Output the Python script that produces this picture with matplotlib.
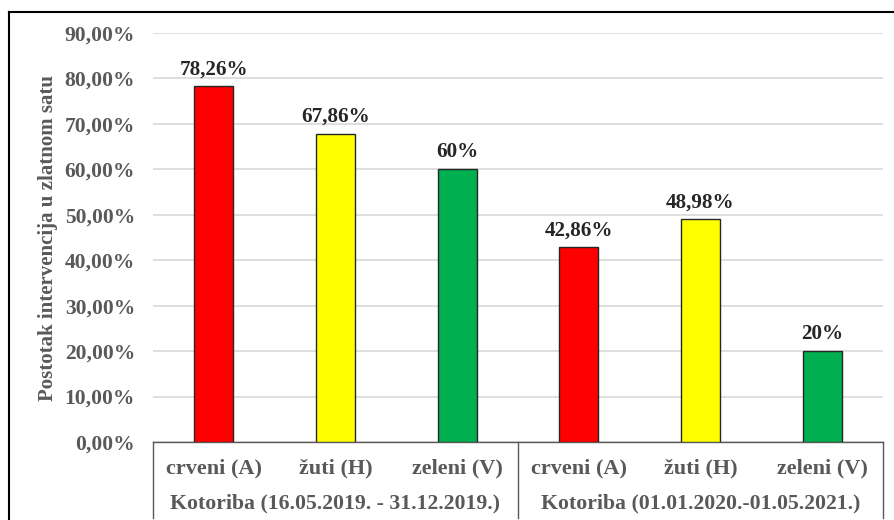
import matplotlib
matplotlib.use("Agg")
import matplotlib.pyplot as plt
from matplotlib.lines import Line2D
from matplotlib.ticker import FuncFormatter
from matplotlib.transforms import offset_copy

categories = ["crveni (A)", "žuti (H)", "zeleni (V)", "crveni (A)", "žuti (H)", "zeleni (V)"]
groups = ["Kotoriba (16.05.2019. - 31.12.2019.)", "Kotoriba (01.01.2020.-01.05.2021.)"]
values = [78.26, 67.86, 60.0, 42.86, 48.98, 20.0]
value_labels = ["78,26%", "67,86%", "60%", "42,86%", "48,98%", "20%"]
colors = ["#FF0000", "#FFFF00", "#00B050", "#FF0000", "#FFFF00", "#00B050"]
yticks = [0, 10, 20, 30, 40, 50, 60, 70, 80, 90]

plt.rcParams['font.family'] = ['Liberation Serif', 'DejaVu Serif']
W, H = 894, 520
fig = plt.figure(figsize=(W / 100, H / 100), dpi=100)

# outer frame (left and top visible, right/bottom cut off)
fig.add_artist(Line2D([9 / W, 9 / W], [0, 1 - 12 / H], transform=fig.transFigure, color="black", lw=1.5))
fig.add_artist(Line2D([9 / W, 1.0], [1 - 12 / H, 1 - 12 / H], transform=fig.transFigure, color="black", lw=1.5))

left, right, bottom, top = 153, 883, 442, 33
ax = fig.add_axes([left / W, (H - bottom) / H, (right - left) / W, (bottom - top) / H])

x = list(range(len(values)))
ax.bar(x, values, width=0.32, color=colors, edgecolor="#262626", linewidth=1.0, zorder=3)
ax.set_xlim(-0.5, len(values) - 0.5)
ax.set_ylim(0, 90)
ax.set_yticks(yticks)
ax.yaxis.set_major_formatter(FuncFormatter(lambda v, p: f"{v:.2f}%".replace(".", ",")))
ax.grid(axis="y", color="#D9D9D9", linewidth=1.2, zorder=0)
for s in ["top", "right", "left"]:
    ax.spines[s].set_visible(False)
ax.spines["bottom"].set_color("#595959")
ax.spines["bottom"].set_linewidth(1.0)
ax.tick_params(axis="y", length=0, pad=13, labelsize=15.5, labelcolor="#595959")
for t in ax.get_yticklabels():
    t.set_fontweight("bold")
ax.set_xticks([])

lab_tr = offset_copy(ax.transData, fig=fig, x=0, y=5, units="points")
for xi, v, lab in zip(x, values, value_labels):
    ax.text(xi, v, lab, transform=lab_tr, ha="center", va="bottom", fontsize=15.2,
            fontweight="bold", color="#262626")

trans = ax.get_xaxis_transform()
ax_h = bottom - top
for xi, c in zip(x, categories):
    ax.text(xi, -26 / ax_h, c, transform=trans, ha="center", va="center", fontsize=16,
            fontweight="bold", color="#595959", clip_on=False)
for gi, g in enumerate(groups):
    ax.text(gi * 3 + 1, -61 / ax_h, g, transform=trans, ha="center", va="center", fontsize=15.7,
            fontweight="bold", color="#595959", clip_on=False)
for sx in [-0.5, 2.5, 5.5]:
    ax.plot([sx, sx], [0, -76 / ax_h], transform=trans, color="#595959", lw=1.0, clip_on=False)

fig.text(48 / W, (H - 238) / H, "Postotak intervencija u zlatnom satu", rotation=90, ha="center",
         va="center", fontsize=15, fontweight="bold", color="#595959")

fig.savefig("out.png", dpi=100)
